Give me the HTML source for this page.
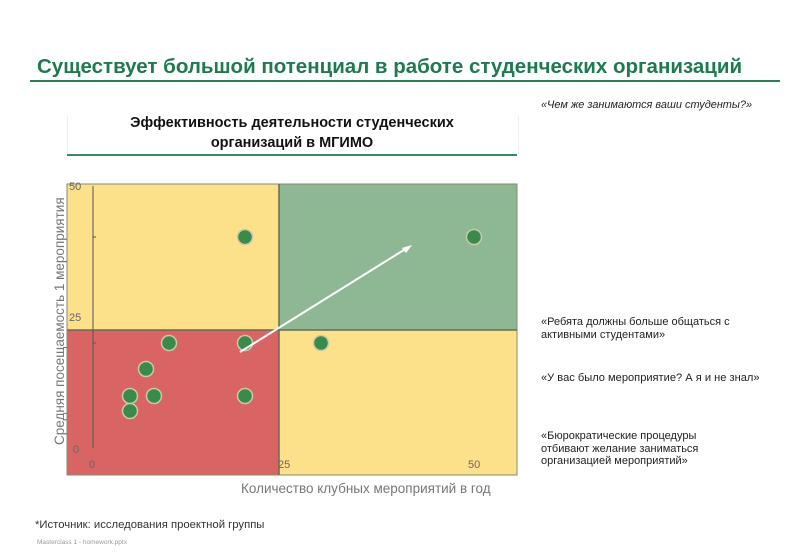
<!DOCTYPE html>
<html><head><meta charset="utf-8"><style>
body{margin:0;width:800px;height:554px;background:#fff;position:relative;overflow:hidden;font-family:"Liberation Sans",sans-serif}
.a{position:absolute;white-space:nowrap}
</style></head><body>
<div class="a" style="left:37px;top:55px;font-size:20.5px;font-weight:bold;color:#1f7a4f">Существует большой потенциал в работе студенческих организаций</div>
<div class="a" style="left:30px;top:80px;width:750px;height:2px;background:#2e7d57"></div>
<div class="a" style="left:67px;top:116px;width:450px;height:38px;border-left:1px solid #eee;border-right:1px solid #eee"></div>
<div class="a" style="left:67px;top:154px;width:450px;height:2px;background:#3a8a60"></div>
<div class="a" style="left:67px;top:113px;width:450px;text-align:center;font-size:14.5px;font-weight:bold;line-height:20px;color:#111">Эффективность деятельности студенческих<br>организаций в МГИМО</div>
<svg class="a" style="left:0;top:0" width="800" height="554">
<rect x="67" y="184" width="212" height="146" fill="#fde08a"/>
<rect x="279" y="184" width="238" height="146" fill="#8db893"/>
<rect x="67" y="330" width="212" height="145" fill="#d96464"/>
<rect x="279" y="330" width="238" height="145" fill="#fde08a"/>
<rect x="67" y="184" width="450" height="291" fill="none" stroke="#8a8a70" stroke-width="1"/>
<line x1="279" y1="184" x2="279" y2="475" stroke="#6a6a50" stroke-width="1.5"/>
<line x1="67" y1="330" x2="517" y2="330" stroke="#6a6a50" stroke-width="1.5"/>
<line x1="93" y1="186" x2="93" y2="448" stroke="#555" stroke-width="1"/>
<line x1="93" y1="237" x2="96" y2="237" stroke="#555"/>
<line x1="93" y1="343" x2="96" y2="343" stroke="#555"/>
<g fill="#3a8a4c" stroke="#c9c9a8" stroke-width="1.5">
<circle cx="245" cy="237" r="7.5"/><circle cx="474" cy="237" r="7.5"/>
<circle cx="169" cy="343" r="7.5"/><circle cx="245" cy="343" r="7.5"/><circle cx="321" cy="343" r="7.5"/>
<circle cx="146" cy="369" r="7.5"/><circle cx="130" cy="396" r="7.5"/><circle cx="154" cy="396" r="7.5"/>
<circle cx="245" cy="396" r="7.5"/><circle cx="130" cy="411" r="7.5"/>
</g>
<line x1="240" y1="352" x2="407" y2="248" stroke="#fff" stroke-width="2"/>
<polygon points="412,245 402,248 406,253" fill="#fff"/>
<g font-family="Liberation Sans" font-size="11" fill="#666">
<text x="69" y="190">50</text><text x="69" y="321">25</text><text x="73" y="453">0</text>
<text x="89" y="468">0</text><text x="278" y="468">25</text><text x="468" y="468">50</text>
</g>
<text x="241" y="493" font-family="Liberation Sans" font-size="13.5" fill="#777">Количество клубных  мероприятий в год</text>
<text transform="translate(64,445) rotate(-90)" font-family="Liberation Sans" font-size="13.5" fill="#777">Средняя посещаемость 1 мероприятия</text>
</svg>
<div class="a" style="left:541px;top:99px;font-size:10.9px;font-style:italic;color:#222">«Чем же занимаются ваши студенты?»</div>
<div class="a" style="left:541px;top:316px;font-size:11px;line-height:13px;color:#222">«Ребята должны больше общаться с<br>активными студентами»</div>
<div class="a" style="left:541px;top:372px;font-size:11.1px;color:#222">«У вас было мероприятие? А я и не знал»</div>
<div class="a" style="left:541px;top:430px;font-size:11px;line-height:12.5px;color:#222">«Бюрократические процедуры<br>отбивают желание заниматься<br>организацией мероприятий»</div>
<div class="a" style="left:35px;top:519px;font-size:11.3px;color:#333">*Источник: исследования проектной группы</div>
<div class="a" style="left:37px;top:539px;font-size:6.5px;color:#999">Masterclass 1 - homework.pptx</div>
</body></html>
